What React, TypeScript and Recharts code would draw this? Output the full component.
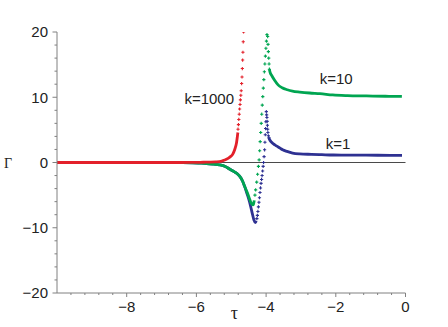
import { ComposedChart, Line, Scatter, XAxis, YAxis, ReferenceLine, ReferenceDot } from 'recharts'

// k=1000 (red)
const redTau = [-10, -9, -8, -7, -6.5, -6, -5.8, -5.6, -5.45, -5.34, -5.24, -5.14, -5.05, -4.96, -4.9, -4.85, -4.81]
const redGamma = [0, 0, 0, 0, 0, 0.02, 0.04, 0.06, 0.09, 0.13, 0.28, 0.5, 0.8, 1.25, 2.0, 3.0, 4.6]
const redDotTau = [-4.806, -4.794, -4.783, -4.771, -4.76, -4.748, -4.737, -4.725, -4.714, -4.702, -4.691, -4.682, -4.673, -4.665, -4.656, -4.647]
const redDotGamma = [5.1, 5.8, 6.6, 7.4, 8.2, 8.9, 9.6, 10.3, 11.0, 12.1, 13.1, 14.4, 15.7, 16.9, 18.5, 20]

// k=10 (green)
const greenTau = [-10, -9, -8, -7, -6.4, -6.1, -5.9, -5.71, -5.51, -5.34, -5.17, -5.05, -4.92, -4.82, -4.76, -4.68, -4.62, -4.55, -4.5, -4.46, -4.43, -4.4, -4.38, -4.36, -4.34]
const greenGamma = [0, 0, 0, -0.01, -0.03, -0.06, -0.1, -0.15, -0.25, -0.35, -0.6, -1.0, -1.4, -1.75, -2.1, -2.8, -3.6, -4.5, -5.2, -5.8, -6.2, -6.45, -6.5, -6.35, -5.8]
const greenDotTau = [-4.32, -4.3, -4.27, -4.245, -4.22, -4.2, -4.185, -4.17, -4.155, -4.14, -4.125, -4.11, -4.095, -4.08, -4.065, -4.05, -4.035, -4.02, -4.005, -3.99, -3.975]
const greenDotGamma = [-5.0, -4.2, -3.0, -1.8, -0.6, 0.4, 1.8, 3.2, 4.6, 6.0, 7.4, 8.8, 10.1, 11.4, 12.7, 13.9, 15.1, 16.3, 17.5, 18.6, 19.6]
const greenDot2Tau = [-3.955, -3.945, -3.935, -3.925, -3.915, -3.905]
const greenDot2Gamma = [19.3, 18.1, 17.0, 16.0, 15.1, 14.3]
const green2Tau = [-3.905, -3.885, -3.835, -3.756, -3.657, -3.539, -3.391, -3.243, -3.036, -2.749, -2.453, -2.088, -1.664, -1.121, -0.578, -0.104]
const green2Gamma = [14.3, 13.8, 13.3, 12.6, 11.9, 11.45, 11.15, 10.95, 10.8, 10.65, 10.55, 10.35, 10.25, 10.2, 10.15, 10.12]

// k=1 (blue)
const blueTau = [-10, -9, -8, -7, -6.4, -6.1, -5.9, -5.71, -5.51, -5.34, -5.17, -5.05, -4.92, -4.82, -4.76, -4.68, -4.62, -4.546, -4.477, -4.427, -4.388, -4.349, -4.31, -4.28]
const blueGamma = [0, 0, 0, -0.01, -0.03, -0.06, -0.1, -0.15, -0.25, -0.35, -0.6, -1.0, -1.4, -1.75, -2.1, -2.8, -3.6, -4.8, -6.0, -7.1, -8.0, -8.8, -9.2, -8.95]
const blueDotTau = [-4.265, -4.25, -4.235, -4.22, -4.205, -4.19, -4.175, -4.16, -4.145, -4.13, -4.115, -4.1, -4.085, -4.072, -4.058, -4.043, -4.033, -4.023, -4.014, -4.006, -3.994, -3.985, -3.977, -3.97, -3.962, -3.955, -3.948, -3.935, -3.92]
const blueDotGamma = [-8.6, -8.1, -7.5, -6.8, -6.1, -5.4, -4.6, -3.9, -3.2, -2.6, -2.0, -1.3, -0.6, 0, 0.9, 1.95, 3.1, 4.25, 5.2, 6.25, 7.8, 7.3, 6.9, 6.3, 5.7, 5.1, 4.6, 4.1, 3.8]
const blue2Tau = [-3.92, -3.899, -3.86, -3.813, -3.75, -3.706, -3.6, -3.525, -3.4, -3.24, -3.036, -2.7, -2.4, -2.086, -1.5, -0.8, -0.1]
const blue2Gamma = [3.8, 3.5, 3.2, 2.95, 2.7, 2.55, 2.2, 1.95, 1.7, 1.45, 1.32, 1.25, 1.2, 1.15, 1.13, 1.11, 1.1]

// axes
const xMajor = [-8, -6, -4, -2, 0]
const xMinor = [-9.6, -9.2, -8.8, -8.4, -7.6, -7.2, -6.8, -6.4, -5.6, -5.2, -4.8, -4.4, -3.6, -3.2, -2.8, -2.4, -1.6, -1.2, -0.8, -0.4]
const yMajor = [-20, -10, 0, 10, 20]
const yMinor = [-18, -16, -14, -12, -8, -6, -4, -2, 2, 4, 6, 8, 12, 14, 16, 18]

// curve labels
const labelText = ['k=1000', 'k=10', 'k=1']
const labelTau = [-6.345, -2.46, -2.288]
const labelGamma = [9.76, 12.83, 2.87]

const RED = '#e3202a'
const GREEN = '#00a551'
const BLUE = '#2e3192'
const FRAME = '#808080'
const TEXT = '#222'
const SANS = '"Liberation Sans", Arial, Helvetica, sans-serif'
const SERIF = '"Liberation Serif", "Times New Roman", serif'

const zip = (t: number[], g: number[]) => t.map((v, i) => ({ t: v, g: g[i] }))
const fmt = (v: number) => (v < 0 ? '\u2212' + Math.abs(v) : String(v))

const Plus = (color: string) => (p: any) => (
  <path d={`M${p.cx - 1.6},${p.cy}h3.2M${p.cx},${p.cy - 1.6}v3.2`} stroke={color} strokeWidth={1.1} fill="none" />
)

const XTick = (p: any) => {
  const major = xMajor.includes(p.payload.value)
  return (
    <g>
      <line x1={p.x} x2={p.x} y1={p.y} y2={p.y + (major ? 4 : 2)} stroke={FRAME} />
      {major && (
        <text x={p.x} y={p.y + 18.5} textAnchor="middle" fontSize={15} fontFamily={SANS} fill={TEXT}>
          {fmt(p.payload.value)}
        </text>
      )}
    </g>
  )
}

const YTick = (p: any) => {
  const major = yMajor.includes(p.payload.value)
  return (
    <g>
      <line x1={p.x} x2={p.x - (major ? 4.5 : 2.5)} y1={p.y} y2={p.y} stroke={FRAME} />
      {major && (
        <text x={p.x - 9} y={p.y + 5.3} textAnchor="end" fontSize={15} fontFamily={SANS} fill={TEXT}>
          {fmt(p.payload.value)}
        </text>
      )}
    </g>
  )
}

export default function App() {
  const xTicks = [...xMinor, ...xMajor].sort((a, b) => a - b)
  const yTicks = [...yMinor, ...yMajor].sort((a, b) => a - b)
  return (
    <div style={{ width: 448, height: 327 }}>
      <style>{'body{margin:0}'}</style>
      <ComposedChart width={448} height={327} margin={{ top: 32, right: 42.5, bottom: 0, left: 0 }}>
        <XAxis
          dataKey="t"
          type="number"
          domain={[-10, 0]}
          ticks={xTicks}
          interval={0}
          tick={<XTick />}
          tickLine={false}
          tickSize={0}
          tickMargin={0}
          height={34}
          axisLine={{ stroke: FRAME }}
          allowDataOverflow
          label={{
            content: (props: any) => (
              <text x={props.viewBox.x + props.viewBox.width / 2 + 3} y={319} textAnchor="middle" fontSize={18} fontFamily={SERIF} fill={TEXT}>
                τ
              </text>
            ),
          }}
        />
        <XAxis xAxisId="top" orientation="top" type="number" domain={[-10, 0]} tick={false} tickLine={false} height={0} axisLine={{ stroke: FRAME }} />
        <YAxis
          dataKey="g"
          type="number"
          domain={[-20, 20]}
          ticks={yTicks}
          interval={0}
          tick={<YTick />}
          tickLine={false}
          tickSize={0}
          tickMargin={0}
          width={57}
          axisLine={{ stroke: FRAME }}
          allowDataOverflow
          label={{
            content: (props: any) => (
              <text x={4} y={props.viewBox.y + props.viewBox.height / 2 + 5} fontSize={14} fontFamily={SERIF} fill={TEXT}>
                Γ
              </text>
            ),
          }}
        />
        <YAxis yAxisId="right" orientation="right" type="number" domain={[-20, 20]} tick={false} tickLine={false} width={0} axisLine={{ stroke: FRAME }} />
        <ReferenceLine y={0} stroke="#4a4a4a" strokeWidth={1} />

        <Line data={zip(blueTau, blueGamma)} dataKey="g" type="monotone" stroke={BLUE} strokeWidth={2.8} dot={false} isAnimationActive={false} />
        <Line data={zip(blue2Tau, blue2Gamma)} dataKey="g" type="monotone" stroke={BLUE} strokeWidth={2.8} dot={false} isAnimationActive={false} />
        <Scatter data={zip(blueDotTau, blueDotGamma)} dataKey="g" shape={Plus(BLUE)} isAnimationActive={false} />

        <Line data={zip(greenTau, greenGamma)} dataKey="g" type="monotone" stroke={GREEN} strokeWidth={2.8} dot={false} isAnimationActive={false} />
        <Line data={zip(green2Tau, green2Gamma)} dataKey="g" type="monotone" stroke={GREEN} strokeWidth={2.8} dot={false} isAnimationActive={false} />
        <Scatter data={zip(greenDotTau, greenDotGamma)} dataKey="g" shape={Plus(GREEN)} isAnimationActive={false} />
        <Scatter data={zip(greenDot2Tau, greenDot2Gamma)} dataKey="g" shape={Plus(GREEN)} isAnimationActive={false} />

        <Line data={zip(redTau, redGamma)} dataKey="g" type="monotone" stroke={RED} strokeWidth={2.8} dot={false} isAnimationActive={false} />
        <Scatter data={zip(redDotTau, redDotGamma)} dataKey="g" shape={Plus(RED)} isAnimationActive={false} />

        {labelText.map((s, i) => (
          <ReferenceDot
            key={s}
            x={labelTau[i]}
            y={labelGamma[i]}
            r={0}
            stroke="none"
            label={{ value: s, position: 'right', offset: 0, fontSize: 15, fontFamily: SANS, fill: TEXT }}
          />
        ))}
      </ComposedChart>
    </div>
  )
}
